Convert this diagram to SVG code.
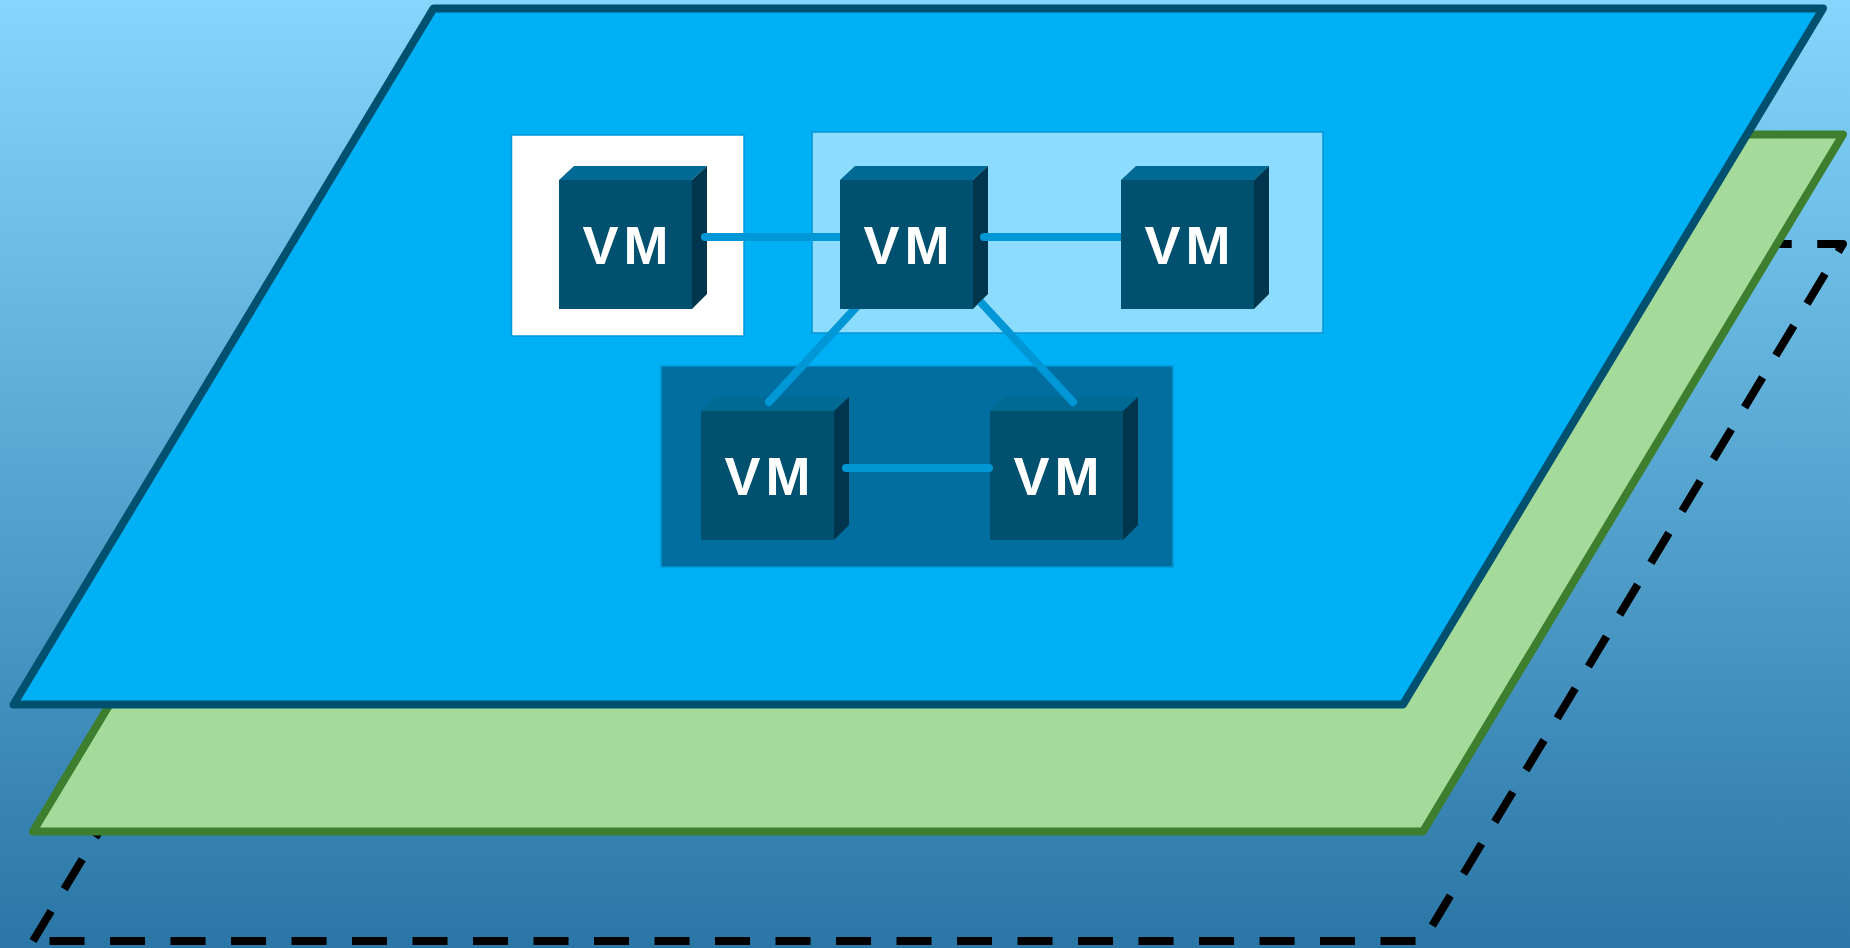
<svg xmlns="http://www.w3.org/2000/svg" width="1850" height="948" viewBox="0 0 1850 948">
<style>
.vm-front{fill:#00506f}
.vm-top{fill:#006a94}
.vm-side{fill:#00364d}
.vm-label{font-family:"Liberation Sans",Arial,sans-serif;font-weight:700;font-size:54px;letter-spacing:5px;fill:#fff;text-anchor:middle}
.grp{stroke:#0097d6;stroke-width:1.5}
.plane{stroke-width:8;stroke-linejoin:round}
.link{fill:none;stroke:#0097d6;stroke-width:8;stroke-linecap:round}
</style>
<defs>
<linearGradient id="bg" x1="0" y1="0" x2="0" y2="1">
<stop offset="0" stop-color="#84d6fc"/>
<stop offset="1" stop-color="#2a76a6"/>
</linearGradient>
<clipPath id="behind">
<path clip-rule="evenodd" d="M0 0H1850V948H0Z M840 180H973V270H988V294L973 309H840Z M1121 180H1254V309H1121Z"/>
</clipPath>
<g id="vmbox">
<path class="vm-top" d="M0 14L15 0H148L133 14Z"/>
<path class="vm-side" d="M133 14L148 0V128L133 143Z"/>
<rect class="vm-front" x="0" y="14" width="133" height="129"/>
</g>
</defs>
<rect id="background" width="1850" height="948" fill="url(#bg)"/>
<path id="plane-dashed" d="M33 941L453 244H1843L1423 941Z" fill="none" stroke="#000" stroke-width="8" stroke-linejoin="round" stroke-dasharray="35 25.5"/>
<path id="plane-green" class="plane" d="M33 831.5L453 134.5H1843L1423 831.5Z" fill="#a4da9a" stroke="#3e7e2f"/>
<path id="plane-blue" class="plane" d="M13.500 704.500L433.500 8.500H1823L1403 704.500Z" fill="#00b0f4" stroke="#00506f"/>
<rect id="group-white" class="grp" x="511.500" y="135" width="232.500" height="201" fill="#fff"/>
<rect id="group-light" class="grp" x="812" y="132" width="511" height="201" fill="#8bdcff"/>
<rect id="group-dark" class="grp" x="661" y="366" width="512" height="201" fill="#006fa0"/>
<g id="vm1"><use href="#vmbox" x="559" y="166"/><text class="vm-label" x="628" y="264">VM</text></g>
<g id="vm2"><use href="#vmbox" x="840" y="166"/><text class="vm-label" x="909" y="264">VM</text></g>
<g id="vm3"><use href="#vmbox" x="1121" y="166"/><text class="vm-label" x="1190" y="264">VM</text></g>
<g id="vm4"><use href="#vmbox" x="701" y="397"/><text class="vm-label" x="770" y="495">VM</text></g>
<g id="vm5"><use href="#vmbox" x="990" y="397"/><text class="vm-label" x="1059" y="495">VM</text></g>
<g id="connectors" clip-path="url(#behind)">
<path class="link" d="M705 237H846"/>
<path class="link" d="M984 237H1125"/>
<path class="link" d="M769 402L860 303"/>
<path class="link" d="M1073 402L975 296"/>
<path class="link" d="M846 468H989"/>
</g>
</svg>
